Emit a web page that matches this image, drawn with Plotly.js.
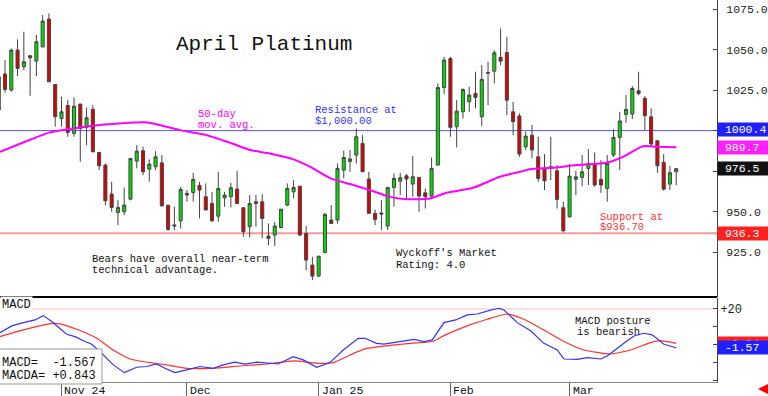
<!DOCTYPE html>
<html><head><meta charset="utf-8">
<script src="https://cdn.plot.ly/plotly-3.0.1.min.js"></script>
<style>html,body{margin:0;padding:0;background:#fff;}#chart{width:768px;height:396px;}</style>
</head><body><div id="chart"></div>
<script>
// ---- Data ----
const openP = [1012.7,1034.9,1025.0,1049.7,1039.4,1046.2,1042.9,1051.7,1068.8,1028.5,
1007.5,1015.5,998.3,1016.4,1002.0,1013.1,986.5,978.7,960.8,949.5,
949.9,957.7,981.2,987.6,976.2,977.7,980.1,954.0,941.8,944.3,
961.2,961.8,966.2,959.2,955.0,947.2,958.5,959.2,963.9,952.4,
940.7,955.0,956.1,934.9,935.5,940.2,954.0,962.2,965.7,936.5,
917.0,910.2,924.8,944.8,944.8,975.6,981.0,984.9,992.1,970.1,
948.9,949.1,941.1,964.9,968.8,972.1,967.0,971.1,961.6,959.6,
978.7,1026.6,1044.5,1002.4,1011.6,1017.8,1022.9,1008.5,1035.9,1036.7,
1045.2,1048.2,1011.6,1009.0,990.0,997.2,983.8,976.7,977.7,975.2,
952.4,946.8,969.9,971.1,976.7,979.7,969.9,964.3,984.9,995.8,
1010.0,1010.2,1024.6,1019.9,1008.5,993.7,980.4,967.0,974.6];
const highP = [1036.0,1043.5,1050.7,1056.3,1061.0,1046.6,1059.0,1071.3,1072.3,1028.5,
1020.9,1018.8,1020.5,1016.4,1014.3,1015.7,986.5,979.7,968.4,957.1,
964.9,983.0,991.0,990.0,982.2,987.3,984.9,954.0,953.0,965.3,
963.3,974.0,968.4,967.4,962.2,974.6,962.2,967.8,975.2,952.4,
960.2,960.2,960.8,942.7,943.7,951.5,967.4,969.4,965.7,941.1,
922.1,922.5,949.3,954.0,979.7,987.6,988.0,1001.3,997.2,974.6,
951.3,957.1,965.3,973.6,974.0,973.1,984.3,971.1,964.3,983.4,
1029.1,1045.6,1045.6,1018.8,1026.0,1027.1,1036.3,1040.4,1042.5,1049.7,
1063.1,1057.9,1017.8,1010.6,999.3,1003.4,996.2,985.5,996.2,978.7,
956.1,979.3,975.2,984.9,988.6,986.5,981.8,984.9,1000.7,1011.6,
1021.9,1027.5,1036.3,1021.3,1013.7,993.7,985.5,978.1,976.7];
const lowP = [1010.0,1023.4,1024.0,1033.6,1037.3,1021.5,1033.6,1051.3,1030.1,1002.4,
1002.4,996.2,996.2,980.8,991.0,986.9,975.6,954.0,949.9,941.7,
947.8,957.0,976.7,972.5,968.4,975.6,953.0,938.2,938.6,939.6,
956.1,956.1,945.8,951.0,943.7,943.7,953.0,952.6,954.6,934.5,
934.1,940.7,933.5,929.3,928.7,939.6,953.6,958.1,934.9,913.9,
907.7,909.8,924.2,942.7,942.7,970.5,974.6,979.7,974.6,948.9,
941.7,938.6,938.6,953.0,960.2,958.1,959.2,949.9,951.9,958.1,
978.7,1022.5,996.2,989.6,1007.5,1011.6,1013.7,1002.8,1015.7,1029.1,
1040.4,1009.6,997.2,983.8,988.0,982.8,968.4,963.3,969.4,951.9,
937.1,946.4,960.2,965.7,966.4,965.3,961.6,956.1,983.8,975.6,
1004.8,1007.1,1021.9,1000.3,990.0,974.0,962.9,963.3,966.4];
const closeP = [1033.2,1025.4,1049.7,1038.4,1042.5,1044.9,1054.8,1067.6,1030.1,1008.5,
1011.6,998.9,1015.1,1001.3,1007.9,986.9,978.3,956.7,952.6,952.6,
954.0,982.8,987.3,974.6,979.3,983.8,953.6,939.0,941.2,963.7,
960.2,969.9,963.3,951.0,944.3,964.3,960.2,964.7,955.0,937.6,
955.0,956.1,945.8,933.5,941.1,951.5,964.3,964.9,935.5,920.1,
910.2,922.5,948.3,942.7,976.7,983.4,982.5,996.2,974.6,948.9,
945.2,948.5,964.9,970.5,970.9,970.1,971.5,959.6,959.2,976.7,
1026.6,1043.5,1002.0,1012.0,1025.4,1021.9,1020.5,1031.6,1035.5,1048.0,
1042.9,1018.8,1005.5,985.5,996.6,988.0,970.5,969.0,976.7,957.5,
938.2,971.9,971.5,974.6,979.7,966.4,966.4,979.7,995.8,1005.9,
1013.1,1026.0,1022.9,1009.2,991.7,978.3,963.9,974.0,976.5];

// 50-day moving average, sampled (day index, price)
const maDay = [0.2,4.19,8.17,10.83,16.14,23.0,24.6,28.9,30.5,32.6,36.9,40.05,43.2,46.9,49.6,52.8,56.0,58.65,62.4,65.0,68.7,71.4,75.6,79.9,83.1,84.7,88.3,92.1,96.9,99.5,102.7,104.9,108];
const maVal = [986.9,993.1,998.9,1000.7,1003.4,1005.1,1004.4,1000.3,999.1,997.8,992.5,988.0,985.9,982.4,977.7,970.7,967.0,963.9,959.1,957.7,958.1,961.6,964.7,971.5,974.6,976.2,977.0,978.7,980.1,983.8,990.4,990.0,989.7];

// MACD (blue) and MACD average (red), sampled
const macdDay = [0.2,2.07,3.92,5.78,7.1,8.44,10.83,12.16,13.75,14.82,16.14,18.26,20.02,21.99,23.58,25.18,26.5,28.1,29.96,32.08,34.2,35.8,37.66,39.25,41.12,42.71,44.56,46.95,48.54,50.68,52.8,54.92,57.31,58.38,60.24,61.41,63.53,66.19,67.78,69.11,70.97,72.84,74.69,76.28,78.41,79.74,80.54,82.66,84.79,86.91,89.03,90.1,92.22,93.81,95.95,97.0,99.66,101.26,102.85,104.17,106.04,108];
const macdVal = [6.8,10.6,12.4,13.9,16.3,13.0,5.9,4.6,1.9,0.4,-3.7,-11.1,-15.4,-12.4,-12.0,-10.6,-13.0,-15.4,-13.9,-12.0,-13.0,-11.1,-9.6,-10.7,-9.6,-10.2,-10.6,-6.5,-8.3,-12.4,-9.8,-2.8,3.7,3.7,0.9,0.5,1.5,3.1,1.9,2.8,12.4,13.9,16.7,17.2,19.4,20.4,19.4,12.4,7.9,0.9,-2.8,-7.8,-8.0,-7.0,-7.8,-6.1,0.9,5.0,6.5,5.6,0.4,-1.57];
const sigDay = [0.2,2.86,5.51,8.7,9.77,12.43,15.62,18.26,20.92,24.11,26.77,29.96,34.2,38.46,42.71,46.95,51.21,53.33,56.0,58.38,61.41,65.66,69.11,70.97,74.69,77.87,81.06,83.72,86.91,90.1,93.29,97.54,100.73,103.92,105.51,108];
const sigVal = [4.6,7.4,9.8,12.0,11.7,8.7,3.7,-2.8,-7.8,-9.8,-11.1,-13.0,-13.0,-11.7,-10.6,-8.9,-10.2,-9.8,-5.6,-2.2,-0.7,0.9,1.9,5.2,10.6,14.3,17.2,14.3,8.3,1.9,-2.8,-5.0,-2.8,1.3,2.4,0.84];

const monthStart = [10,30,51,72,91];
const monthLabels = ['Nov 24','Dec','Jan 25','Feb','Mar'];
const priceTicks = [925,950,975,1000,1025,1050,1075];
const hiddenTicks = [975,1000]; // covered by the value boxes in the reference
const resistance = 1000.0, support = 936.7;
const lastMA = 989.7, lastClose = 976.5, resLabel = 1000.4, supLabel = 936.3;
const lastMacd = -1.567, lastMacdA = 0.843;

// ---- Build ----
const days = openP.map((_, i) => i);
const W = 717, H = 382;
const px = p => p / W, py = p => 1 - p / H;
const MONO = 'Liberation Mono, DejaVu Sans Mono, monospace';

const traces = [
  {type:'candlestick', x:days, open:openP, high:highP, low:lowP, close:closeP,
   xaxis:'x', yaxis:'y', hoverinfo:'skip',
   increasing:{line:{color:'#444', width:1}, fillcolor:'#00dd00'},
   decreasing:{line:{color:'#444', width:1}, fillcolor:'#dd0000'}},
  {type:'scatter', mode:'lines', x:maDay, y:maVal, xaxis:'x', yaxis:'y',
   line:{color:'#ff00ff', width:2, shape:'spline', smoothing:0.6}, hoverinfo:'skip'},
  {type:'scatter', mode:'lines', x:sigDay, y:sigVal, xaxis:'x', yaxis:'y2',
   line:{color:'#ff3030', width:1.2, shape:'spline', smoothing:0.5}, hoverinfo:'skip'},
  {type:'scatter', mode:'lines', x:macdDay, y:macdVal, xaxis:'x', yaxis:'y2',
   line:{color:'#3333ff', width:1.2}, hoverinfo:'skip'}
];

function txt(t, x, y, color, size, extra){
  return Object.assign({text:t, xref:'paper', yref:'paper', x:px(x), y:py(y),
    xanchor:'left', yanchor:'middle', showarrow:false,
    font:{family:MONO, size:size||10.5, color:color||'#111'}}, extra||{});
}
function box(t, yv, yref, bg){
  return {text:'\u00a0'+t, xref:'paper', yref:yref, x:1, y:yv, xanchor:'left', yanchor:'middle',
    showarrow:false, bgcolor:bg, borderpad:0, width:56, align:'left',
    font:{family:MONO, size:11.5, color:'#fff'}};
}

const ann = [
  txt('April Platinum', 174, 44, '#111', 21),
  txt('50-day', 196, 114, '#ff00ff'),
  txt('mov. avg.', 196, 125, '#ff00ff'),
  txt('Resistance at', 313, 110, '#3333ff'),
  txt('$1,000.00', 313, 121, '#3333ff'),
  txt('Bears have overall near-term', 90, 259),
  txt('technical advantage.', 90, 269.5),
  txt("Wyckoff's Market", 394, 253),
  txt('Rating: 4.0', 394, 264.5),
  txt('Support at', 598, 216.5, '#ff3333'),
  txt('$936.70', 598, 227, '#ff3333'),
  txt('MACD posture', 573, 321),
  txt('is bearish', 575, 332),
  txt('MACD', 0, 305, '#111', 12, {bgcolor:'#fff', borderpad:1}),
  txt('MACD=\u00a0\u00a0' + lastMacd.toFixed(3), 0, 362.5, '#111', 12),
  txt('MACDA=\u00a0' + (lastMacdA >= 0 ? '+' : '') + lastMacdA.toFixed(3), 0, 376, '#111', 12),
  box(resLabel.toFixed(1), resLabel, 'y', '#2020ff'),
  box(lastMA.toFixed(1), lastMA, 'y', '#ff20ff'),
  box(lastClose.toFixed(1), lastClose, 'y', '#111'),
  box(supLabel.toFixed(1), supLabel, 'y', '#ff2020'),
  box((lastMacdA >= 0 ? '+' : '') + lastMacdA.toFixed(2), lastMacdA, 'y2', '#ff2020'),
  box(lastMacd.toFixed(2), lastMacd, 'y2', '#2020ff'),
  {text:'', xref:'paper', yref:'paper', x:px(758), y:py(389), ax:10, ay:0, axref:'pixel', ayref:'pixel',
   showarrow:true, arrowhead:2, arrowsize:0.8, arrowwidth:3, arrowcolor:'#ff0000'}
];
monthStart.forEach((d, i) => ann.push({text:monthLabels[i], xref:'x', yref:'paper', x:d, y:0,
  xanchor:'left', yanchor:'middle', xshift:1, yshift:-8, showarrow:false,
  font:{family:MONO, size:11.5, color:'#111'}}));

const shapes = [
  {type:'line', xref:'paper', x0:0, x1:1, yref:'y', y0:resistance, y1:resistance, line:{color:'#5555ff', width:1}, layer:'below'},
  {type:'line', xref:'paper', x0:0, x1:1, yref:'y', y0:support, y1:support, line:{color:'#ff9999', width:2}, layer:'below'},
  {type:'line', xref:'paper', x0:0, x1:1, yref:'y2', y0:20, y1:20, line:{color:'#ffbbbb', width:1}, layer:'below'},
  {type:'line', xref:'paper', x0:0, x1:1, yref:'paper', y0:py(297), y1:py(297), line:{color:'#000', width:2}},
  {type:'rect', xref:'paper', x0:-0.01, x1:px(102), yref:'paper', y0:py(384), y1:py(349),
   fillcolor:'#fff', line:{color:'#999', width:1}, layer:'above'}
];

const layout = {
  width:768, height:396, margin:{l:0, r:51, t:0, b:14},
  paper_bgcolor:'#fff', plot_bgcolor:'#fff', showlegend:false, hovermode:false,
  xaxis:{range:[0.2,114.5], anchor:'y2', showgrid:false, zeroline:false,
    tickvals:monthStart, ticktext:monthStart.map(() => ''), ticks:'outside', ticklen:14,
    tickcolor:'#666', showline:true, linecolor:'#888', rangeslider:{visible:false}, fixedrange:true},
  yaxis:{domain:[py(297),1], range:[897.3,1080.6], side:'right', showgrid:false, zeroline:false,
    tickvals:priceTicks, ticktext:priceTicks.map(v => hiddenTicks.includes(v) ? '' : v.toFixed(1)),
    ticks:'inside', ticklen:4,
    tickcolor:'#444', showline:true, linecolor:'#444', ticklabelstandoff:6,
    tickfont:{family:MONO, size:11.5, color:'#222'}},
  yaxis2:{domain:[0,py(298)], range:[-20.6,26.1], side:'right', showgrid:false, zeroline:false,
    tickvals:[-20,-10,0,10,20], ticktext:['','','','','+20'], ticks:'inside', ticklen:4,
    tickcolor:'#444', showline:true, linecolor:'#444', ticklabelstandoff:0,
    tickfont:{family:MONO, size:12, color:'#222'}},
  annotations:ann, shapes:shapes
};

Plotly.newPlot('chart', traces, layout, {staticPlot:true, displayModeBar:false});
</script></body></html>
